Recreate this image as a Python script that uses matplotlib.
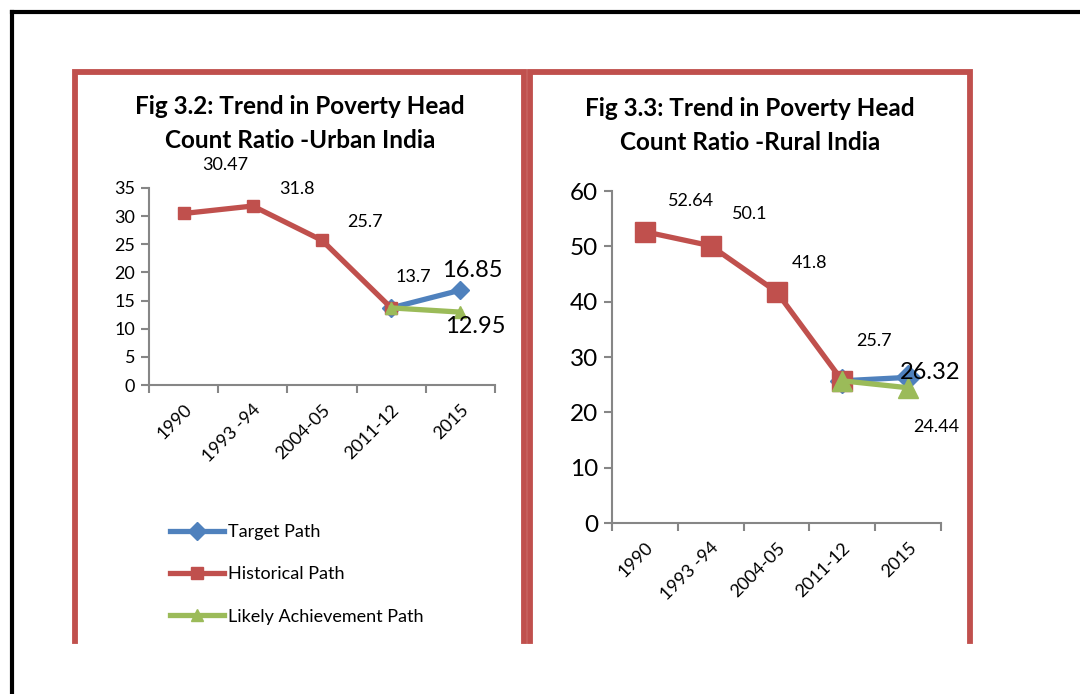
import matplotlib.pyplot as plt
from matplotlib.lines import Line2D

plt.rcParams['font.family'] = ['Lato', 'DejaVu Sans']

# === data ===
periods = ['1990', '1993 -94', '2004-05', '2011-12', '2015']

urban_hist = [30.47, 31.8, 25.7, 13.7]
urban_target = [13.7, 16.85]
urban_likely = [13.7, 12.95]

rural_hist = [52.64, 50.1, 41.8, 25.7]
rural_target = [25.7, 26.32]
rural_likely = [25.7, 24.44]

BLUE = '#4F81BD'
RED = '#C0504D'
GREEN = '#9BBB59'
AXC = '#868686'

W, H = 1080, 694
fig = plt.figure(figsize=(W / 100, H / 100), dpi=100)


def fx(px):
    return px / W


def fy(py):
    return 1 - py / H


# frame lines (outer black, red panel borders)
fig.add_artist(Line2D([fx(11.5), fx(1080)], [fy(11.5), fy(11.5)], color='black', lw=3))
fig.add_artist(Line2D([fx(11.5), fx(11.5)], [fy(11.5), fy(694)], color='black', lw=3))
for l, r in [(75, 523.5), (530, 970)]:
    fig.add_artist(Line2D([fx(l), fx(l), fx(r), fx(r)],
                          [fy(641), fy(72), fy(72), fy(641)],
                          color=RED, lw=4.2, solid_joinstyle='miter'))


def draw(ax, hist, target, likely, ymax, ystep, tick_fs, labels, offs):
    x_hist = list(range(len(hist)))
    x_tail = [3, 4]
    ax.plot(x_tail, target, color=BLUE, lw=3.8, marker='D', ms=12, zorder=3, label='Target Path')
    ax.plot(x_hist, hist, color=RED, lw=3.8, marker='s', ms=14, zorder=4, label='Historical Path')
    ax.plot(x_tail, likely, color=GREEN, lw=3.8, marker='^', ms=15, zorder=5, label='Likely Achievement Path')

    pts = [(x, v) for x, v in zip(x_hist, hist)] + [(4, target[1]), (4, likely[1])]
    for (x, v), (dx, dy), fs in zip(pts, offs, labels):
        ax.annotate(f'{v:g}', (x, v), xytext=(dx, -dy), textcoords='offset pixels',
                    ha='center', va='center', fontsize=fs, color='black', zorder=6)

    ax.set_xlim(-0.5, 4.5)
    ax.set_ylim(0, ymax)
    ax.set_yticks(range(0, ymax + 1, ystep))
    ax.set_xticks([i - 0.5 for i in range(6)], minor=False)
    ax.set_xticklabels([])
    ax.set_xticks(range(5), minor=True)
    ax.set_xticklabels(periods, minor=True, rotation=45, ha='right', va='top',
                       rotation_mode='anchor', fontsize=13)
    ax.tick_params(axis='x', which='minor', length=0, pad=12)
    ax.tick_params(axis='x', which='major', length=6, color=AXC, width=1.5)
    ax.tick_params(axis='y', length=6, color=AXC, width=1.5, labelsize=tick_fs, pad=4)
    for s in ['top', 'right']:
        ax.spines[s].set_visible(False)
    for s in ['left', 'bottom']:
        ax.spines[s].set_color(AXC)
        ax.spines[s].set_linewidth(1.5)


# === urban ===
ax1 = fig.add_axes([fx(149), fy(385), fx(495) - fx(149), fy(188) - fy(385)])
ax1.patch.set_alpha(0)
draw(ax1, urban_hist, urban_target, urban_likely, 35, 5, 13,
     [13, 13, 13, 13, 17, 17],
     [(42, -48), (44, -17), (43, -18), (22, -31), (12, -20), (15, 14)])
fig.text(fx(300), fy(107), 'Fig 3.2: Trend in Poverty Head', ha='center', va='center',
         fontsize=17.5, fontweight='bold')
fig.text(fx(300), fy(140), 'Count Ratio -Urban India', ha='center', va='center',
         fontsize=17.5, fontweight='bold')

handles, lbls = ax1.get_legend_handles_labels()
for h in handles:
    h.set_markersize(9)
fig.legend(handles, lbls, loc='upper left', bbox_to_anchor=(fx(163), fy(517)),
           frameon=False, fontsize=13, handlelength=3.0, handletextpad=0.2,
           labelspacing=1.45, borderaxespad=0)

# === rural ===
ax2 = fig.add_axes([fx(612), fy(523), fx(941) - fx(612), fy(191) - fy(523)])
ax2.patch.set_alpha(0)
draw(ax2, rural_hist, rural_target, rural_likely, 60, 10, 17.5,
     [13, 13, 13, 13, 17, 13],
     [(46, -31), (39, -32), (33, -29), (32, -40), (22, -5), (28, 39)])
fig.text(fx(750), fy(108), 'Fig 3.3: Trend in Poverty Head', ha='center', va='center',
         fontsize=17.5, fontweight='bold')
fig.text(fx(750), fy(142), 'Count Ratio -Rural India', ha='center', va='center',
         fontsize=17.5, fontweight='bold')

fig.savefig('out.png', dpi=100)
